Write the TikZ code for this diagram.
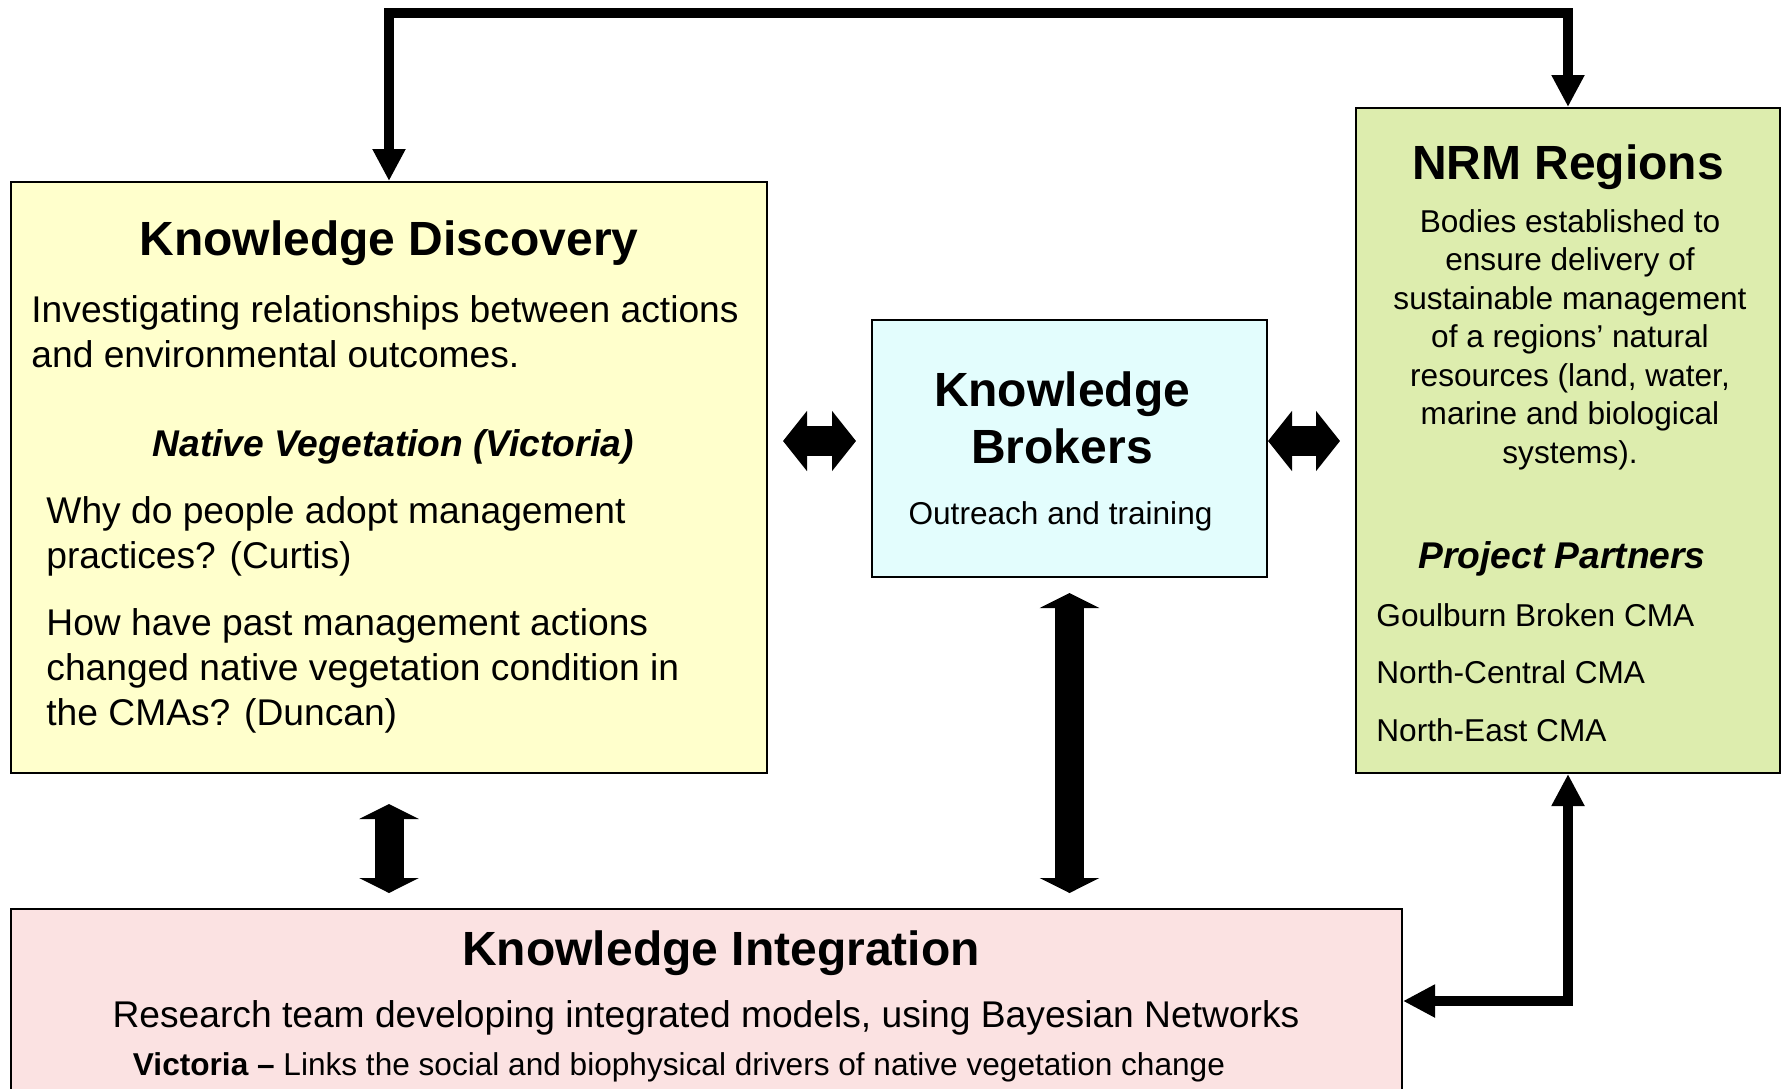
\documentclass[tikz,border=0pt]{standalone}
\usepackage{fontspec}
\setmainfont{Liberation Sans}
\usetikzlibrary{arrows.meta,positioning}

\definecolor{discfill}{HTML}{FFFFCC}
\definecolor{brokfill}{HTML}{E3FDFD}
\definecolor{nrmfill}{HTML}{DDEDAE}
\definecolor{intfill}{HTML}{FBE2E2}

\begin{document}
\begin{tikzpicture}[x=0.5pt,y=-0.5pt]
\tikzset{panel/.style={draw,line width=1pt,inner sep=0pt},
ttl/.style={font=\fontsize{24}{28.5}\selectfont\bfseries,inner sep=0pt,align=center},
txt/.style={font=\fontsize{18.6}{22.3}\selectfont,inner sep=0pt,align=left},
sub/.style={txt,font=\fontsize{18.6}{22.3}\selectfont\bfseries\itshape},
sml/.style={font=\fontsize{15.8}{19.25}\selectfont,inner sep=0pt,align=center},
fat/.style={line width=15pt,{Triangle[length=12pt,width=29.5pt]}-{Triangle[length=12pt,width=29.5pt]},shorten <=7.5pt,shorten >=7.5pt},
fatv/.style={line width=14.5pt,{Triangle[length=7.5pt,width=29.5pt]}-{Triangle[length=7.5pt,width=29.5pt]},shorten <=7.5pt,shorten >=7.5pt},
link/.style={line width=5pt,{Triangle[length=16pt,width=15.5pt]}-{Triangle[length=16pt,width=15.5pt]}},
}
\useasboundingbox (0,0) rectangle (1787,1088);
\clip (0,0) rectangle (1787,1088);

% the four boxes
\node[panel,fill=discfill,minimum width=378pt,minimum height=295.5pt] (disc) at (389,477.5) {};
\node[panel,fill=brokfill,minimum width=197.5pt,minimum height=128.5pt] (brok) at (1069.5,448.5) {};
\node[panel,fill=nrmfill,minimum width=212pt,minimum height=332.5pt] (nrm) at (1568,440.5) {};
\node[panel,fill=intfill,minimum width=695.5pt,minimum height=92pt] (integ) at (706.5,1001) {};

% Knowledge Discovery (multi-line nodes sit on their last baseline)
\node[ttl,anchor=base] (discT) at (389,255) {Knowledge Discovery};
\node[txt,anchor=base west] (discA) at (31,367) {Investigating relationships between actions\\and environmental outcomes.};
\node[sub,anchor=base] (discV) at (393,456) {Native Vegetation (Victoria)};
\node[txt,anchor=base west] (discQ1) at (46,568) {Why do people adopt management\\practices? (Curtis)};
\node[txt,anchor=base west] (discQ2) at (46,725) {How have past management actions\\changed native vegetation condition in\\the CMAs? (Duncan)};

% Knowledge Brokers
\node[ttl,anchor=base] (brokT) at (1062,463) {Knowledge\\Brokers};
\node[sml,anchor=base] (brokS) at (1060.5,524) {Outreach and training};

% NRM Regions
\node[ttl,anchor=base] (nrmT) at (1568,179) {NRM Regions};
\node[sml,anchor=base] (nrmB) at (1570,463) {Bodies established to\\ensure delivery of\\sustainable management\\of a regions’ natural\\resources (land, water,\\marine and biological\\systems).};
\node[sub,anchor=base] (nrmP) at (1562,568) {Project Partners};
\node[sml,anchor=base west,align=left] (nrmL) at (1376,741) {Goulburn Broken CMA\\[9.5pt]North-Central CMA\\[9.5pt]North-East CMA};

% Knowledge Integration
\node[ttl,anchor=base] (integT) at (721,965) {Knowledge Integration};
\node[txt,anchor=base] (integA) at (706,1027) {Research team developing integrated models, using Bayesian Networks};
\node[sml,anchor=base] (integB) at (679,1075) {\textbf{Victoria –} Links the social and biophysical drivers of native vegetation change};

% connectors
\coordinate (hrow) at (0,441);
\coordinate (toprail) at (1000,13);
\draw[fat] (disc.east |- hrow) -- (brok.west |- hrow);
\draw[fat,shorten <=0pt] (brok.east |- hrow) -- (nrm.west |- hrow);
\draw[fatv,shorten <=15pt] (disc.south) -- (disc.south |- integ.north);
\draw[fatv] (brok.south) -- (brok.south |- integ.north);
\draw[link] (disc.north) |- (toprail) -| (nrm.north);
\draw[link] (nrm.south) |- (integ.east);

\end{tikzpicture}
\end{document}
